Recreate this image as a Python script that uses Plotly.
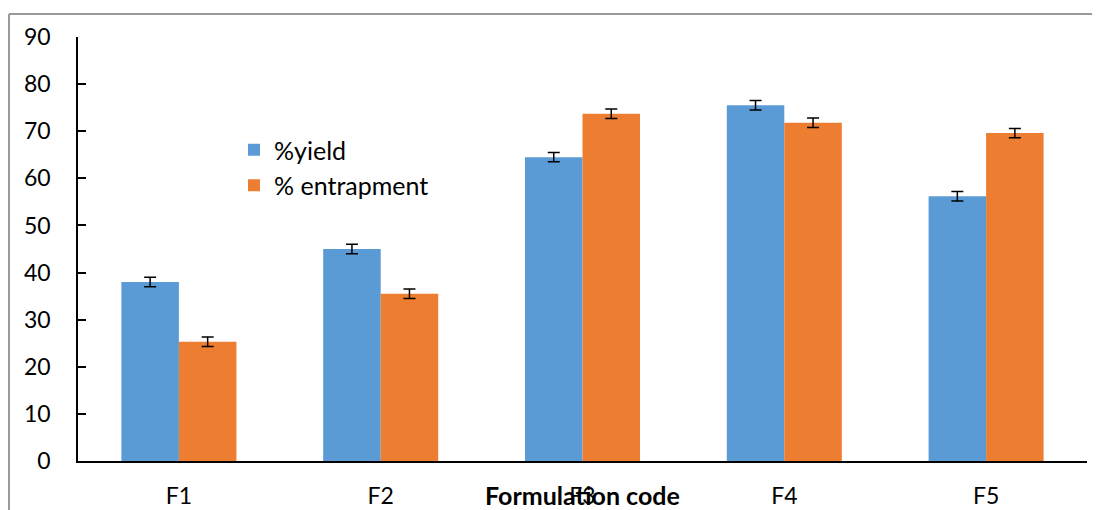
import plotly.graph_objects as go

categories = ["F1", "F2", "F3", "F4", "F5"]
yield_vals = [38.0, 45.0, 64.5, 75.5, 56.2]
entrap_vals = [25.3, 35.5, 73.7, 71.8, 69.6]
yield_err = [1, 1, 1, 1, 1]
entrap_err = [1, 1, 1, 1, 1]
y_ticks = [0, 10, 20, 30, 40, 50, 60, 70, 80, 90]

FONT = "Lato"
W, H = 1100, 510
OFF = 8  # page body margin in the browser
# plot area in reference (screen) pixels
PL, PR, PT, PB = 78, 1087, 37, 461
L = PL - OFF
T = PT - OFF
R = W - (PR - OFF)
B = H - (PB - OFF)
pw, ph = W - L - R, H - T - B

def px_x(x):
    return (x - OFF - L) / pw

def px_y(y):
    return (H - B - (y - OFF)) / ph

fig = go.Figure()
fig.add_trace(go.Bar(
    x=categories, y=yield_vals, name="%yield", legendgroup="a",
    marker=dict(color="#5B9BD5", line=dict(width=0)),
    error_y=dict(type="data", array=yield_err, color="black", thickness=1.5, width=6),
))
fig.add_trace(go.Bar(
    x=categories, y=entrap_vals, name="% entrapment", legendgroup="b",
    marker=dict(color="#ED7D31", line=dict(width=0)),
    error_y=dict(type="data", array=entrap_err, color="black", thickness=1.5, width=6),
))

fig.update_layout(
    width=W, height=H,
    margin=dict(l=L, r=R, t=T, b=B, pad=0, autoexpand=False),
    paper_bgcolor="white", plot_bgcolor="white",
    barmode="group", bargap=0.43, bargroupgap=0,
    font=dict(family=FONT, size=23, color="black"),
    legend=dict(x=px_x(234), y=px_y(127), xanchor="left", yanchor="top",
                bgcolor="rgba(0,0,0,0)", font=dict(size=25), tracegroupgap=2,
                traceorder="normal"),
    xaxis=dict(showline=True, linecolor="black", linewidth=1.5, ticks="",
               showgrid=False, ticklabelstandoff=14, tickfont=dict(size=23)),
    yaxis=dict(range=[0, 90], tickvals=y_ticks, showline=True, linecolor="black",
               linewidth=1.5, ticks="inside", ticklen=8, tickcolor="black", tickwidth=1.5,
               showgrid=False, zeroline=False, ticklabelstandoff=21, tickfont=dict(size=23)),
    shapes=[
        dict(type="line", xref="paper", yref="paper", x0=px_x(9), x1=px_x(1115),
             y0=px_y(14), y1=px_y(14), line=dict(color="#999999", width=2)),
        dict(type="line", xref="paper", yref="paper", x0=px_x(9), x1=px_x(9),
             y0=px_y(14), y1=px_y(530), line=dict(color="#999999", width=2)),
    ],
    annotations=[dict(text="<b>Formulation code</b>", xref="paper", yref="paper",
                      x=px_x(582), y=px_y(495), xanchor="center", yanchor="middle",
                      showarrow=False, font=dict(size=25, family=FONT))],
)

fig.write_html("out.html")
